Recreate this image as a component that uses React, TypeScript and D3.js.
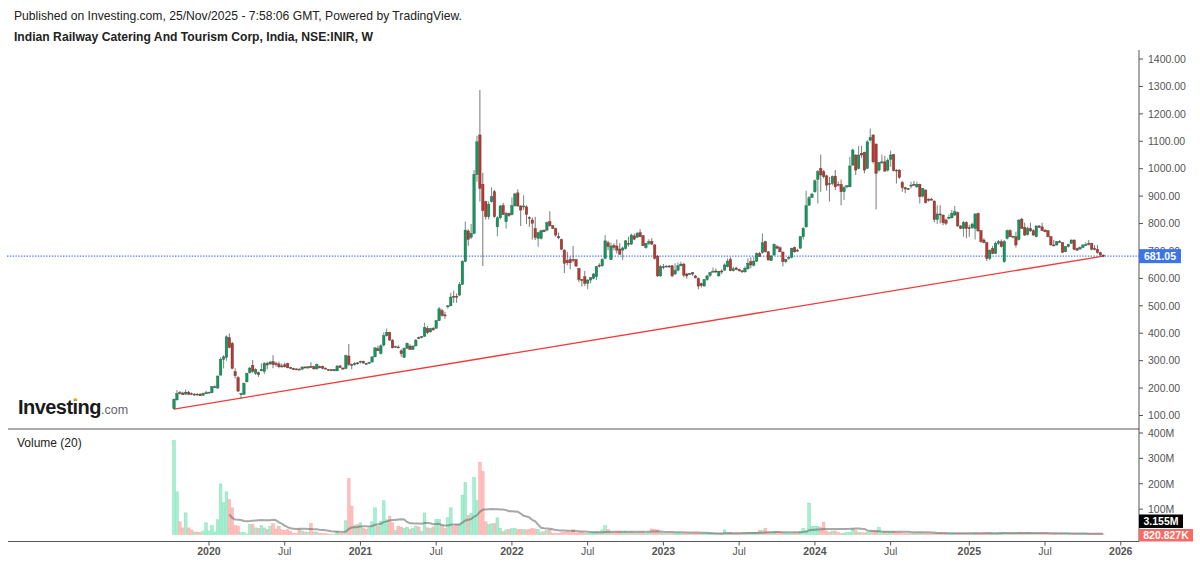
import { line, mean, scaleLinear } from 'd3'

const opens = [
  125,157,184,182,178,185,180,176,178,178, 174,180,183,183,202,200,247,305,312,384,
  363,260,238,176,177,223,256,283,254,256, 263,261,290,288,297,290,288,281,285,290,
  275,272,270,269,269,277,273,279,278,270, 278,279,273,268,267,263,263,281,273,272,
  317,286,286,292,295,298,290,290,295,314, 344,326,357,391,403,375,350,350,336,312,
  345,353,341,354,384,384,389,418,405,418, 418,446,482,467,497,500,535,535,539,578,
  662,773,750,764,979,1123,943,880,825,880, 916,788,821,866,807,837,833,865,912,864,
  861,861,822,813,782,746,746,776,776,807, 792,782,752,742,703,666,669,669,669,636,
  596,606,582,594,600,606,648,646,673,730, 669,720,718,707,703,709,728,725,755,750,
  767,756,712,728,735,722,681,609,643,643, 645,646,616,630,646,652,616,616,621,609,
  600,581,572,596,611,626,627,609,627,630, 643,669,628,638,633,628,624,635,661,648,
  663,691,694,734,697,665,685,716,712,696, 661,673,677,713,703,710,752,788,867,895,
  916,961,1001,989,974,946,946,973,943,943, 916,934,934,1013,1050,1001,1056,1060,1001,1104,
  1123,1090,995,1022,1025,995,1034,1052,995,995, 950,931,928,938,943,934,943,900,922,889,
  889,882,815,835,831,813,819,821,831,840, 791,782,804,785,785,782,837,774,740,730,
  673,709,691,728,734,661,746,774,752,752, 742,816,786,760,782,774,752,791,788,776,
  774,752,722,722,734,730,697,716,728,740, 709,707,713,722,728,728,709,706,694,685,
]
const highs = [
  162,193,189,187,195,189,184,182,181,181, 183,190,187,208,210,246,312,320,393,399,
  369,272,244,183,220,256,278,302,272,261, 290,295,296,300,320,296,296,290,293,292,
  278,274,272,272,278,280,280,294,282,290, 282,282,275,270,269,270,284,284,276,322,
  361,290,295,295,300,300,292,296,315,348, 354,360,403,417,405,378,354,356,342,348,
  366,360,356,378,388,390,438,426,420,424, 448,496,489,478,503,548,555,545,587,666,
  807,779,798,995,1119,1287,985,883,880,932, 922,827,868,876,843,840,895,912,925,867,
  903,867,827,822,825,770,776,778,807,845, 795,785,767,745,707,697,679,718,672,639,
  598,627,597,603,620,645,655,673,758,737, 730,728,742,728,716,740,752,764,764,770,
  779,758,730,743,746,725,685,649,652,648, 649,649,655,658,661,657,621,620,623,612,
  603,584,596,612,624,640,636,628,633,655, 673,677,643,642,636,630,643,673,677,679,
  694,697,764,737,700,684,728,722,716,698, 672,680,712,716,708,755,787,920,900,912,
  961,995,1052,995,978,970,975,995,953,961, 937,940,1044,1074,1052,1083,1083,1062,1104,1147,
  1125,1092,1025,1052,1046,1038,1066,1054,998,998, 955,933,930,952,955,952,945,930,925,892,
  894,885,867,867,833,818,833,849,864,843, 795,809,808,795,803,837,840,776,746,734,
  705,718,734,740,742,740,778,779,755,770, 815,821,803,788,803,779,794,795,803,779,
  776,754,740,736,740,733,718,726,742,742, 712,716,724,733,740,730,722,722,697,687,
]
const lows = [
  122,155,177,175,176,175,176,172,174,171, 172,178,181,181,200,198,247,272,300,345,
  269,235,186,160,175,220,253,256,248,241, 261,251,269,284,272,278,272,274,274,272,
  270,266,266,266,267,272,271,273,268,268, 272,269,268,263,262,261,261,273,268,269,
  281,269,281,286,290,290,286,288,293,312, 336,322,352,388,373,345,347,345,314,310,
  343,339,339,352,378,382,387,397,402,410, 416,444,460,453,490,498,511,511,535,576,
  660,719,744,761,952,880,645,815,815,876, 822,754,815,831,782,825,829,861,861,791,
  849,798,788,742,740,715,742,768,772,788, 780,752,743,703,620,648,633,660,642,586,
  571,572,560,582,596,594,640,642,670,703, 667,703,691,685,667,705,716,722,740,748,
  750,718,708,722,722,669,606,606,633,640, 640,604,612,625,644,604,599,612,609,600,
  560,567,570,591,604,624,620,607,616,628, 640,626,625,630,624,620,621,632,637,643,
  660,678,690,694,665,663,683,706,695,643, 655,668,673,694,697,708,742,785,864,893,
  912,873,916,965,920,880,940,922,935,867, 886,928,932,1011,977,998,1040,983,999,1100,
  1019,852,989,1018,989,990,1007,990,946,963, 916,910,922,928,938,930,873,895,873,880,
  885,806,798,800,794,795,815,818,827,788, 780,752,746,752,780,742,770,730,728,663,
  667,688,689,722,713,657,742,750,745,713, 738,780,755,756,770,755,750,785,772,768,
  750,720,717,719,730,693,695,713,726,703, 700,704,711,718,720,703,702,690,683,677,
]
const closes = [
  159,180,180,176,185,177,177,178,176,172, 181,183,185,205,205,244,305,314,387,348,
  272,245,189,180,217,254,273,261,268,249, 268,290,284,295,286,286,278,280,278,274,
  272,267,267,267,277,273,278,275,270,286, 274,272,269,265,263,268,280,275,269,318,
  286,284,290,289,298,291,288,294,314,347, 336,354,391,403,375,347,352,347,326,345,
  363,341,353,375,380,388,421,402,417,412, 446,489,465,466,500,532,533,533,578,662,
  776,742,764,979,1098,928,847,825,870,898, 825,821,864,833,837,829,865,908,864,849,
  864,833,819,801,749,767,774,770,803,792, 782,758,748,706,655,657,657,667,645,596,
  594,582,594,603,616,643,645,669,737,716, 718,713,703,688,711,737,725,758,743,764,
  752,719,728,734,725,673,609,643,640,645, 643,609,630,646,652,612,609,618,616,602,
  572,574,596,609,621,626,626,626,624,649, 663,628,635,633,628,624,637,655,649,663,
  691,680,730,697,667,682,724,710,697,661, 669,677,710,697,700,752,782,865,894,907,
  956,989,977,971,940,944,971,934,940,916, 931,938,1010,1068,995,1050,1050,995,1098,1114,
  1025,983,1022,1025,991,1031,1050,993,993,968, 931,926,927,940,940,943,898,928,876,885,
  885,815,835,832,803,801,823,837,843,791, 782,804,782,782,798,835,773,734,730,673,
  703,691,728,734,716,734,774,752,754,722, 813,782,758,782,773,758,791,786,774,770,
  752,722,719,734,731,695,716,724,740,706, 703,713,722,724,724,706,706,694,685,681,
]
// volume in millions
const volumes = [
  371,168,50,26,85,26,18,10,10,8, 14,46,14,35,10,58,199,125,168,137,
  105,35,33,7,7,2,39,39,26,24, 35,26,20,33,43,22,33,18,16,20,
  12,5,4,22,14,10,9,43,10,10, 4,4,3,2,2,2,13,4,4,54,
  220,112,37,39,46,25,20,26,50,105, 33,52,133,58,72,46,16,33,29,24,
  29,20,24,33,30,12,85,26,24,30, 59,59,35,24,66,105,33,39,39,155,
  205,76,83,224,134,285,248,50,39,42, 43,66,24,12,18,20,23,24,20,20,
  20,18,20,24,22,20,9,11,15,18, 5,3,4,7,9,10,9,20,6,7,
  8,5,5,6,9,11,9,18,35,20, 9,7,10,12,8,11,7,10,8,7,
  9,10,5,8,22,20,18,8,5,4, 4,5,5,6,4,3,3,5,4,6,
  4,3,5,5,5,4,4,3,4,18, 7,8,5,6,5,5,4,7,8,9,
  8,15,15,25,10,9,11,12,7,6, 6,5,5,6,6,12,25,15,124,32,
  32,32,28,49,14,9,14,14,8,4, 5,7,9,22,15,8,7,6,10,11,
  11,15,28,10,11,11,9,12,6,7, 5,4,4,4,5,5,6,6,5,4,
  3,5,5,6,4,4,3,4,5,5, 5,5,5,4,5,6,5,5,6,7,
  8,5,5,6,9,8,5,4,4,5, 7,6,6,9,6,5,5,4,4,4,
  3,3,3,3,3,3,3,3,3,3, 3,3,3,3,3,2,3,3,3,0.82,
]

// week index of each date tick, counted from the first candle (14 Oct 2019)
const dateTicks = [12,38,64,90,116,142,168,194,220,246,273,299,325]
const dateLabels = ['2020','Jul','2021','Jul','2022','Jul','2023','Jul','2024','Jul','2025','Jul','2026']
const priceTicks = [100,200,300,400,500,600,700,800,900,1000,1100,1200,1300,1400]
const volumeTicks = [100,200,300,400]
const lastPrice = 681.05
const trendStart = 123.6

const font = '"Liberation Sans", Arial, sans-serif'
const axisX = 1139

export default function App() {
  const x = scaleLinear().domain([0, 319]).range([174, 1103.3])
  const y = scaleLinear().domain([100, 1400]).range([415.5, 59])
  const yVol = scaleLinear().domain([0, 400]).range([534.5, 433])

  const ma = volumes
    .map((_, i) => (i < 19 ? null : mean(volumes.slice(i - 19, i + 1)) as number))
  const maPath = line<number | null>()
    .defined(d => d !== null)
    .x((_, i) => x(i))
    .y(d => yVol(d as number))(ma)

  return (
    <svg width={1200} height={563} style={{ position: 'absolute', left: 0, top: 0, background: '#fff' }} fontFamily={font}>
      <text x={14} y={20} fontSize={12.15} fill="#222">Published on Investing.com, 25/Nov/2025 - 7:58:06 GMT, Powered by TradingView.</text>
      <text x={14} y={41} fontSize={12.15} fontWeight="bold" fill="#222">Indian Railway Catering And Tourism Corp, India, NSE:INIR, W</text>

      {volumes.map((v, i) => {
        const up = closes[i] >= opens[i]
        return (
          <rect key={i} x={x(i) - 1.35} y={yVol(v)} width={2.7} height={yVol(0) - yVol(v)}
            fill={up ? '#a8eed0' : '#fdc0be'} stroke={up ? '#7fe3bb' : '#fca9a7'} strokeWidth={0.5} />
        )
      })}
      <path d={maPath ?? ''} fill="none" stroke="#6e6e6e" strokeOpacity={0.6} strokeWidth={2} />

      <line x1={x(0)} y1={y(trendStart)} x2={x(319)} y2={y(lastPrice)} stroke="#f23a3a" strokeWidth={1.3} />
      <line x1={7} x2={axisX} y1={y(lastPrice)} y2={y(lastPrice)} stroke="#2f66ea" strokeOpacity={0.85} strokeWidth={1.3} strokeDasharray="1.4 1.4" />

      {opens.map((o, i) => {
        const c = closes[i]
        const up = c >= o
        const top = y(Math.max(o, c))
        const bot = y(Math.min(o, c))
        return (
          <g key={i}>
            <line x1={x(i)} x2={x(i)} y1={y(highs[i])} y2={y(lows[i])} stroke={up ? '#3f6f5a' : '#5a4a48'} strokeOpacity={0.7} strokeWidth={1.1} />
            <rect x={x(i) - 1.25} y={top} width={2.5} height={Math.max(bot - top, 1)}
              fill={up ? '#0a9c5e' : '#c2342c'} stroke="#33403a" strokeOpacity={0.7} strokeWidth={0.5} />
          </g>
        )
      })}

      <line x1={8} x2={axisX} y1={429} y2={429} stroke="#555" />
      <line x1={8} x2={axisX} y1={541.5} y2={541.5} stroke="#555" />
      <line x1={axisX} x2={axisX} y1={50} y2={541.5} stroke="#555" />

      {priceTicks.map(t => (
        <g key={t}>
          <line x1={axisX} x2={axisX + 4} y1={y(t)} y2={y(t)} stroke="#555" />
          <text x={axisX + 9} y={y(t) + 3.8} fontSize={10.5} fill="#555">{t.toFixed(2)}</text>
        </g>
      ))}
      {volumeTicks.map(t => (
        <g key={t}>
          <line x1={axisX} x2={axisX + 4} y1={yVol(t)} y2={yVol(t)} stroke="#555" />
          <text x={axisX + 9} y={yVol(t) + 3.8} fontSize={10.5} fill="#555">{t}M</text>
        </g>
      ))}
      {dateTicks.map((d, i) => (
        <g key={d}>
          <line x1={x(d)} x2={x(d)} y1={541.5} y2={545.5} stroke="#555" />
          <text x={x(d)} y={555} fontSize={10.5} textAnchor="middle" fill="#555"
            fontWeight={dateLabels[i] === 'Jul' ? 'normal' : 'bold'}>{dateLabels[i]}</text>
        </g>
      ))}

      <rect x={axisX} y={y(lastPrice) - 7} width={42} height={14} fill="#3d74e8" />
      <text x={axisX + 21} y={y(lastPrice) + 4} fontSize={10.5} fontWeight="bold" textAnchor="middle" fill="#fff">{lastPrice.toFixed(2)}</text>
      <rect x={axisX} y={514.5} width={44} height={13.5} fill="#000" />
      <text x={axisX + 22} y={525} fontSize={10.5} fontWeight="bold" textAnchor="middle" fill="#fff">3.155M</text>
      <rect x={axisX} y={529} width={54} height={12.5} fill="#fb6a62" />
      <text x={axisX + 27} y={539} fontSize={10.5} fontWeight="bold" textAnchor="middle" fill="#fff">820.827K</text>

      <text x={17} y={447} fontSize={12} fill="#222">Volume (20)</text>

      <text x={18} y={414} fontSize={20} fontWeight="bold" letterSpacing={-0.55} fill="#1a1a1a">Investing</text>
      <text x={101} y={414} fontSize={12.5} fill="#666">.com</text>
      <circle cx={75.5} cy={399.5} r={1.6} fill="#f5a623" />
    </svg>
  )
}
